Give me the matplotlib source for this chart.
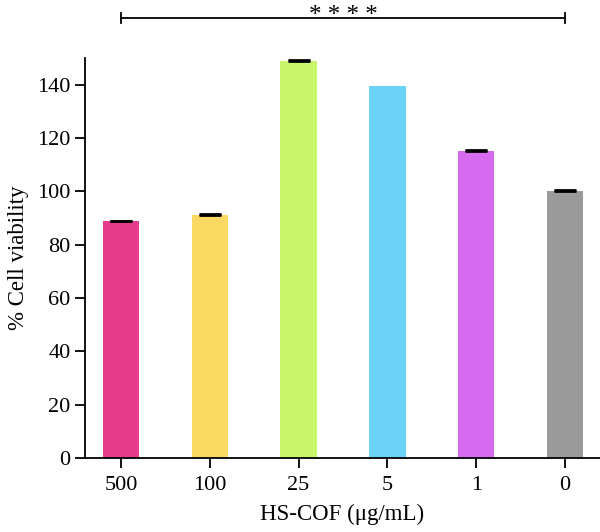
import matplotlib.pyplot as plt

plt.rcParams['font.family'] = ['Liberation Serif', 'DejaVu Serif']

doses = ["500", "100", "25", "5", "1", "0"]
viability = [88.7, 91.2, 149.0, 139.5, 115.0, 100.1]
errors = [0.3, 0.3, 0.3, 0.0, 0.3, 0.3]
colors = ["#E73C8E", "#FAD862", "#C8F56A", "#6BD3F7", "#D66BF0", "#9A9A9A"]

fig = plt.figure(figsize=(6, 5.32), dpi=100)
ax = fig.add_axes([0.1417, 0.1391, 0.8583, 0.752])

x = list(range(len(doses)))
ax.bar(x, viability, width=0.41, color=colors)

# caps only where an error was shown
ex = [xi for xi, e in zip(x, errors) if e > 0]
ey = [v for v, e in zip(viability, errors) if e > 0]
ee = [e for e in errors if e > 0]
ax.errorbar(ex, ey, yerr=[[0] * len(ee), ee], fmt="none",
            ecolor="black", elinewidth=1.5, capsize=8, capthick=2)

ax.set_xlim(-0.405, 5.394)
ax.set_ylim(0, 150)
ax.set_yticks(range(0, 141, 20))
ax.set_xticks(x)
ax.set_xticklabels(doses)
ax.tick_params(labelsize=16, length=7, width=1.3)
ax.tick_params(axis="x", pad=6)
ax.spines["top"].set_visible(False)
ax.spines["right"].set_visible(False)
ax.spines["left"].set_linewidth(1.3)
ax.spines["bottom"].set_linewidth(1.3)

ax.set_xlabel("HS-COF (μg/mL)", fontsize=16.5, labelpad=6)
ax.set_ylabel("% Cell viability", fontsize=16.5, labelpad=6)

# significance bracket
y_br = 165
ax.plot([0, 5], [y_br, y_br], color="black", lw=1.3, clip_on=False)
for xi in (0, 5):
    ax.plot([xi, xi], [y_br - 2, y_br + 2], color="black", lw=1.3, clip_on=False)
ax.text(2.5, y_br - 1.5, "* * * *", ha="center", va="baseline", fontsize=18,
        clip_on=False)

fig.savefig("out.png", dpi=100)
